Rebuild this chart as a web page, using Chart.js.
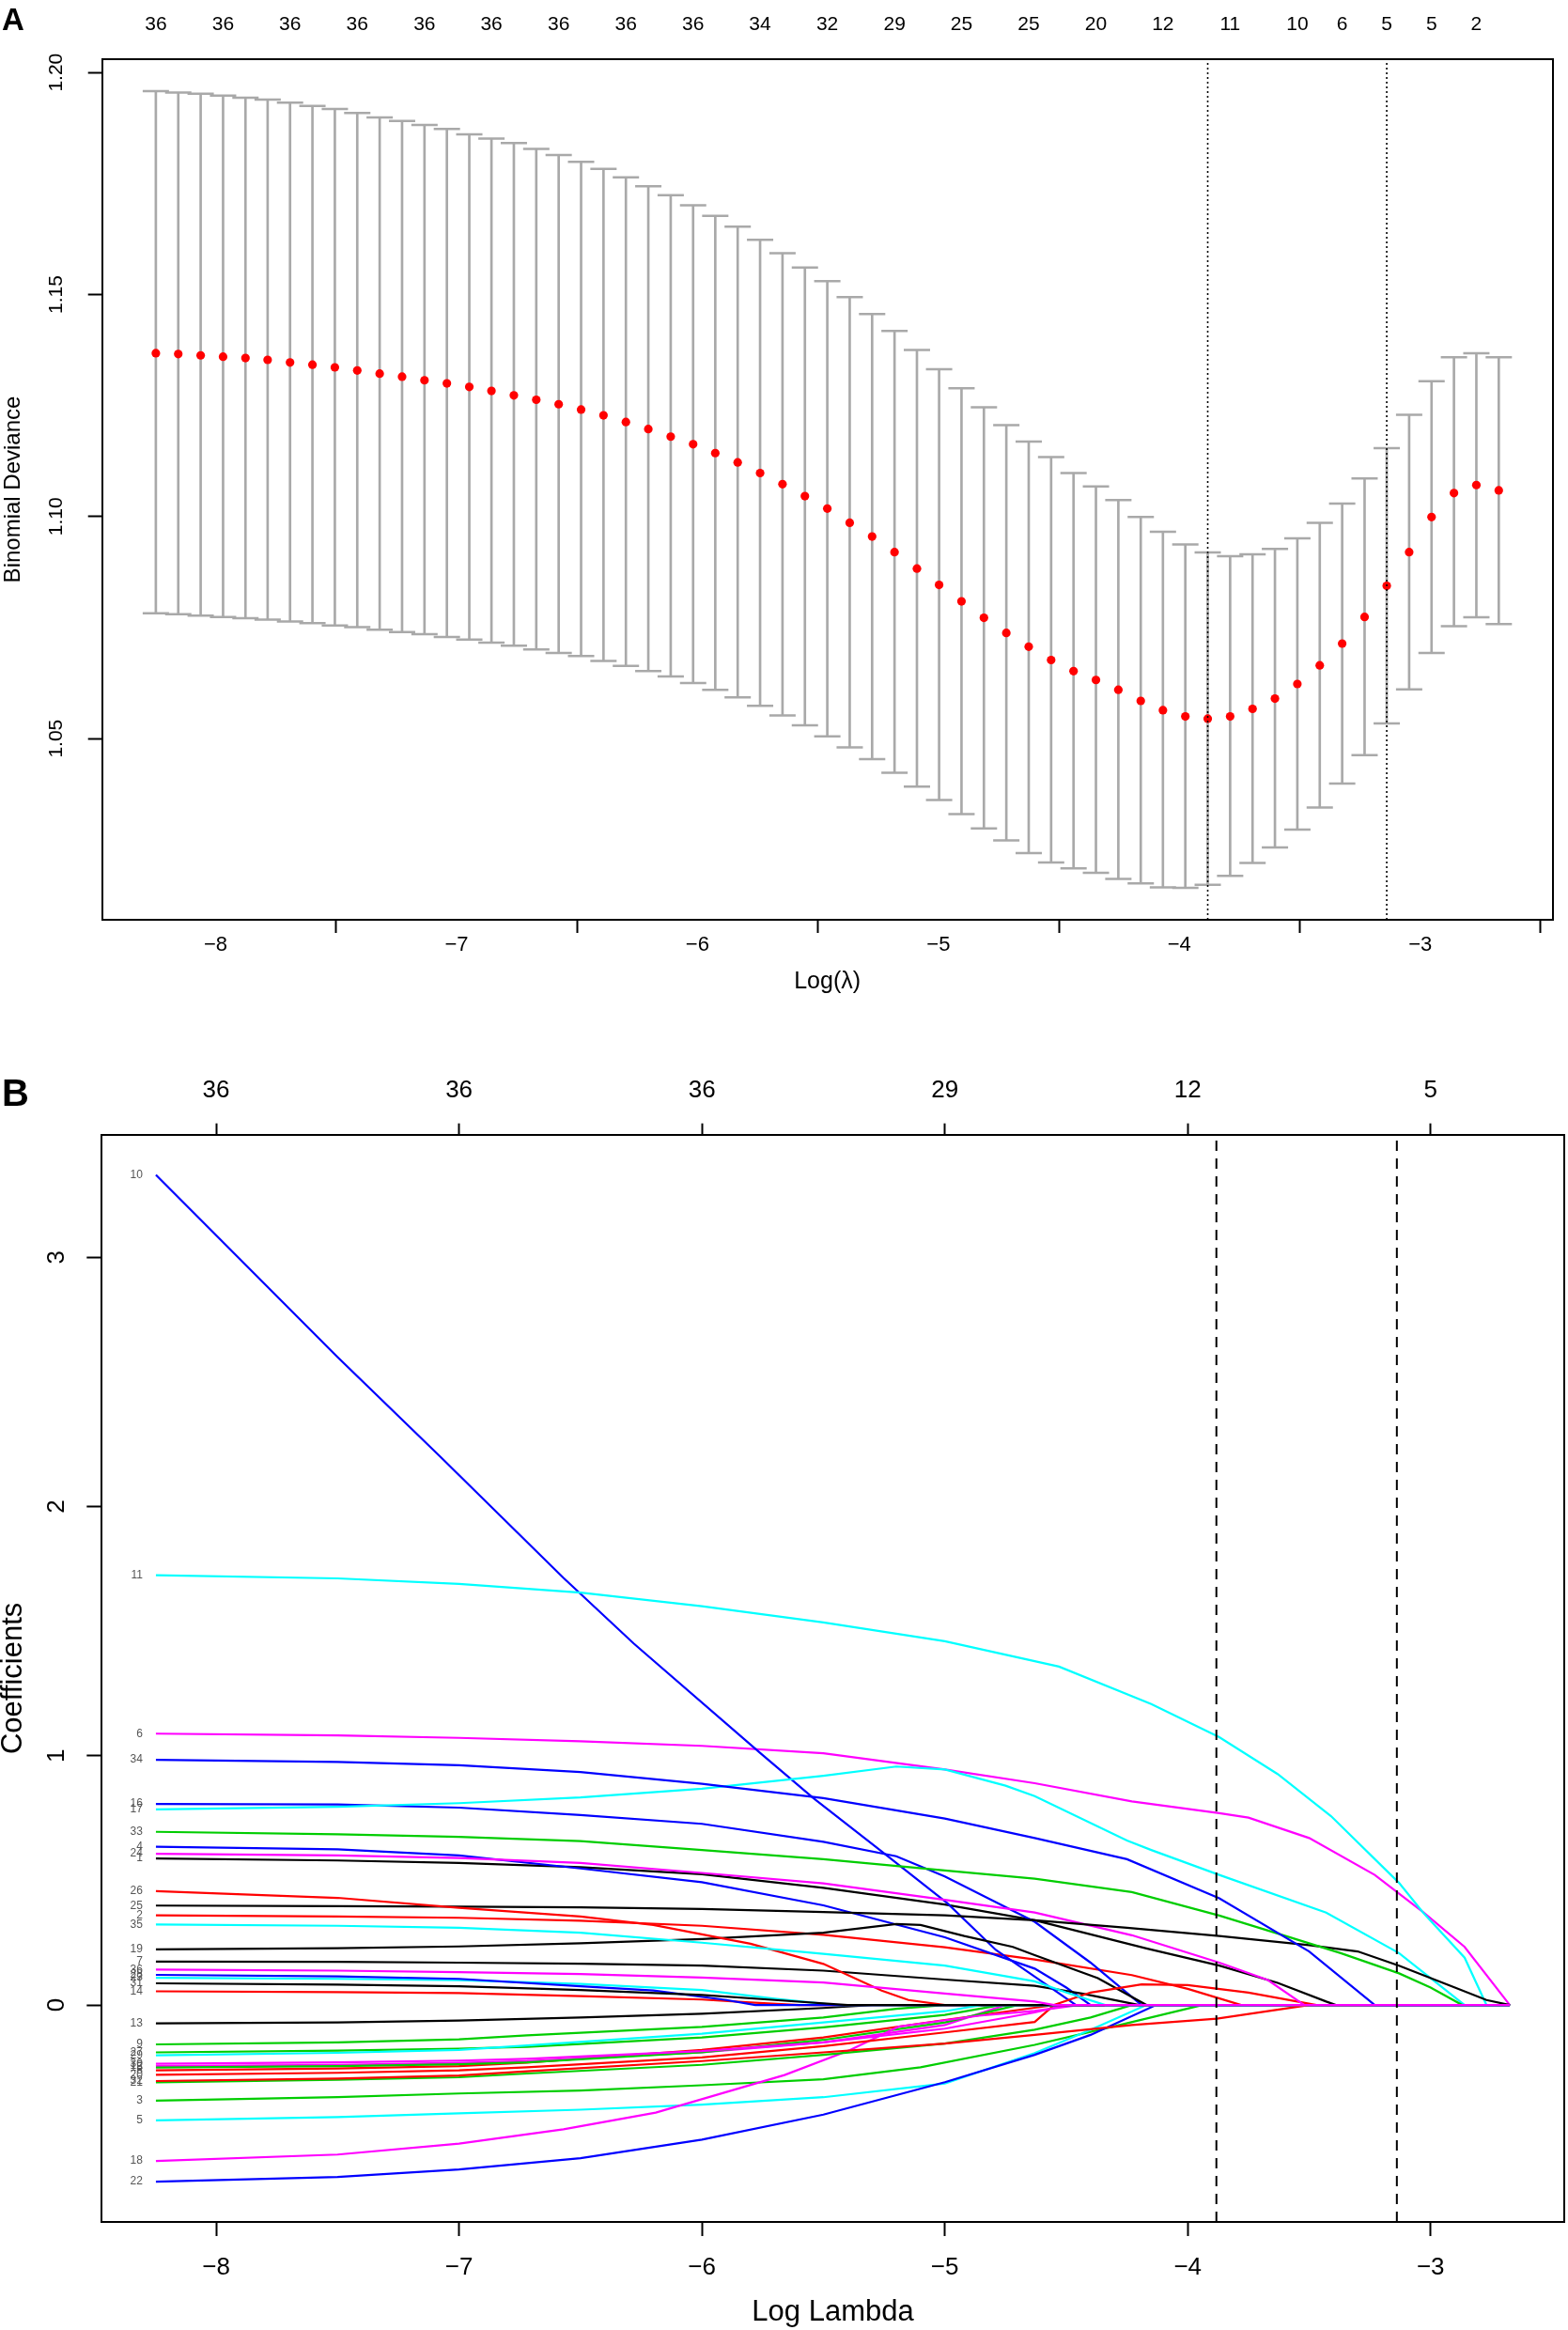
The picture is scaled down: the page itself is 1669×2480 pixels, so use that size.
<!DOCTYPE html>
<html>
<head>
<meta charset="utf-8">
<script src="https://cdn.jsdelivr.net/npm/chart.js@4.4.1/dist/chart.umd.min.js"></script>
<style>
  html, body { margin: 0; padding: 0; background: #fff; }
  #wrap { position: relative; width: 1669px; height: 2480px; }
  canvas { position: absolute; left: 0; }
  #cvChart { top: 0; }
  #pathChart { top: 1100px; }
</style>
</head>
<body>
<div id="wrap">
  <canvas id="cvChart" width="1669" height="1100"></canvas>
  <canvas id="pathChart" width="1669" height="1380"></canvas>
</div>
<script>
// ---- panel A: cross-validation curve ----
const logLambda = [
  -8.248, -8.155, -8.062, -7.969, -7.876, -7.784, -7.691, -7.598, -7.505, -7.412,
  -7.319, -7.226, -7.133, -7.040, -6.947, -6.855, -6.762, -6.669, -6.576, -6.483,
  -6.390, -6.297, -6.204, -6.111, -6.018, -5.926, -5.833, -5.740, -5.647, -5.554,
  -5.461, -5.368, -5.275, -5.182, -5.089, -4.997, -4.904, -4.811, -4.718, -4.625,
  -4.532, -4.439, -4.346, -4.253, -4.160, -4.068, -3.975, -3.882, -3.789, -3.696,
  -3.603, -3.510, -3.417, -3.324, -3.231, -3.139, -3.046, -2.953, -2.860, -2.767,
  -2.674
];
const cvMean = [
  1.1368, 1.1366, 1.1363, 1.1360, 1.1357, 1.1353, 1.1347, 1.1342, 1.1336, 1.1329,
  1.1322, 1.1315, 1.1307, 1.1300, 1.1292, 1.1283, 1.1273, 1.1263, 1.1253, 1.1241,
  1.1228, 1.1213, 1.1197, 1.1180, 1.1163, 1.1143, 1.1122, 1.1098, 1.1073, 1.1046,
  1.1018, 1.0986, 1.0955, 1.0920, 1.0883, 1.0846, 1.0809, 1.0772, 1.0738, 1.0707,
  1.0677, 1.0652, 1.0632, 1.0610, 1.0585, 1.0564, 1.0550, 1.0545, 1.0550, 1.0567,
  1.0590, 1.0623, 1.0665, 1.0714, 1.0774, 1.0844, 1.0920, 1.0999, 1.1053, 1.1071,
  1.1059
];
const cvUpper = [
  1.1958, 1.1955, 1.1952, 1.1948, 1.1943, 1.1939, 1.1932, 1.1925, 1.1918, 1.1909,
  1.1899, 1.1891, 1.1882, 1.1873, 1.1861, 1.1851, 1.1841, 1.1828, 1.1814, 1.1799,
  1.1783, 1.1764, 1.1744, 1.1724, 1.1701, 1.1677, 1.1653, 1.1623, 1.1593, 1.1561,
  1.1530, 1.1494, 1.1456, 1.1418, 1.1375, 1.1332, 1.1289, 1.1246, 1.1206, 1.1169,
  1.1134, 1.1098, 1.1068, 1.1037, 1.0999, 1.0966, 1.0937, 1.0919, 1.0911, 1.0915,
  1.0927, 1.0951, 1.0986, 1.1029, 1.1086, 1.1154, 1.1229, 1.1305, 1.1359, 1.1368,
  1.1359
];
const cvLower = [
  1.0782, 1.0780, 1.0777, 1.0774, 1.0771, 1.0768, 1.0764, 1.0760, 1.0755, 1.0751,
  1.0745, 1.0740, 1.0735, 1.0729, 1.0723, 1.0716, 1.0709, 1.0701, 1.0693, 1.0686,
  1.0675, 1.0664, 1.0652, 1.0640, 1.0625, 1.0610, 1.0593, 1.0574, 1.0552, 1.0530,
  1.0505, 1.0480, 1.0454, 1.0423, 1.0392, 1.0362, 1.0330, 1.0298, 1.0271, 1.0242,
  1.0221, 1.0208, 1.0198, 1.0184, 1.0174, 1.0165, 1.0164, 1.0171, 1.0191, 1.0220,
  1.0255, 1.0295, 1.0345, 1.0399, 1.0463, 1.0534, 1.0611, 1.0693, 1.0753, 1.0773,
  1.0758
];
// which lambda steps carry a non-zero count label on top, and the counts
const nzIndex = [0, 3, 6, 9, 12, 15, 18, 21, 24, 27, 30, 33, 36, 39, 42, 45, 48, 51, 53, 55, 57, 59];
const nzCount = [36, 36, 36, 36, 36, 36, 36, 36, 36, 34, 32, 29, 25, 25, 20, 12, 11, 10, 6, 5, 5, 2];
const lambdaMin = -3.882;
const lambda1se = -3.139;

const xLimits = [-8.471, -2.451];
const xTicks = [-8, -7, -6, -5, -4, -3];
const devLimits = [1.0092, 1.2030];
const devTicks = [1.05, 1.10, 1.15, 1.20];

// ---- panel B: coefficient paths (variable 1..36), [log lambda, coef] ----
const coefLimits = [-0.8706, 3.4926];
const coefTicks = [0, 1, 2, 3];
const dfTicks = [-8, -7, -6, -5, -4, -3];
const dfCounts = [36, 36, 36, 29, 12, 5];

const coefPaths = [
  /* 1 */ [[-8.248,0.588],[-7.5,0.580],[-7,0.570],[-6.5,0.553],[-6,0.525],[-5.5,0.470],[-5,0.403],[-4.63,0.340],[-4.17,0.227],[-3.87,0.158],[-3.63,0.089],[-3.43,0.014],[-3.39,0],[-2.674,0]],
  /* 2 */ [[-8.248,0.360],[-7.5,0.355],[-7,0.350],[-6.5,0.338],[-6,0.318],[-5.5,0.282],[-5,0.232],[-4.63,0.183],[-4.23,0.12],[-4.0,0.065],[-3.78,0],[-2.674,0]],
  /* 3 */ [[-8.248,-0.384],[-7.5,-0.370],[-7,-0.355],[-6.5,-0.343],[-6,-0.322],[-5.5,-0.298],[-5.1,-0.25],[-4.63,-0.16],[-4.3,-0.085],[-3.94,0],[-2.674,0]],
  /* 4 */ [[-8.248,0.635],[-7.5,0.625],[-7,0.600],[-6.5,0.548],[-6,0.493],[-5.5,0.40],[-5,0.272],[-4.63,0.146],[-4.5,0.07],[-4.4,0],[-2.674,0]],
  /* 5 */ [[-8.248,-0.463],[-7.5,-0.45],[-7,-0.435],[-6.5,-0.42],[-6,-0.40],[-5.5,-0.37],[-5,-0.315],[-4.63,-0.193],[-4.4,-0.10],[-4.17,0],[-2.674,0]],
  /* 6 */ [[-8.248,1.089],[-7.5,1.082],[-7,1.072],[-6.5,1.058],[-6,1.040],[-5.5,1.010],[-5,0.945],[-4.63,0.890],[-4.23,0.817],[-3.87,0.770],[-3.75,0.752],[-3.5,0.670],[-3.23,0.522],[-3.03,0.372],[-2.86,0.233],[-2.674,0]],
  /* 7 */ [[-8.248,0.174],[-7.5,0.173],[-7,0.170],[-6.5,0.166],[-6,0.158],[-5.5,0.138],[-5,0.102],[-4.63,0.077],[-4.43,0.045],[-4.2,0],[-2.674,0]],
  /* 8 */ [[-8.248,-0.262],[-7.5,-0.255],[-7,-0.245],[-6.72,-0.231],[-6,-0.18],[-5.5,-0.13],[-5,-0.06],[-4.63,-0.011],[-4.55,0],[-2.674,0]],
  /* 9 */ [[-8.248,-0.158],[-7.5,-0.150],[-7,-0.138],[-6.72,-0.122],[-6,-0.088],[-5.5,-0.05],[-5.2,-0.015],[-5.0,0],[-2.674,0]],
  /* 10 */ [[-8.248,3.331],[-7.5,2.60],[-7.08,2.203],[-6.57,1.714],[-6.28,1.45],[-5.76,1.011],[-5.54,0.829],[-5.26,0.616],[-4.99,0.409],[-4.79,0.221],[-4.63,0.114],[-4.46,0],[-2.674,0]],
  /* 11 */ [[-8.248,1.725],[-7.5,1.712],[-7,1.69],[-6.5,1.655],[-6,1.60],[-5.5,1.535],[-5,1.46],[-4.53,1.358],[-4.15,1.208],[-3.87,1.075],[-3.63,0.927],[-3.41,0.758],[-3.13,0.49],[-3.03,0.37],[-2.86,0.19],[-2.77,0],[-2.674,0]],
  /* 12 */ [[-8.248,-0.245],[-7.5,-0.240],[-7,-0.232],[-6.72,-0.225],[-6,-0.19],[-5.5,-0.15],[-5,-0.08],[-4.75,0],[-2.674,0]],
  /* 13 */ [[-8.248,-0.074],[-7.5,-0.07],[-7,-0.062],[-6.5,-0.05],[-6,-0.035],[-5.5,-0.012],[-5.3,0],[-2.674,0]],
  /* 14 */ [[-8.248,0.055],[-7.5,0.052],[-7,0.048],[-6.5,0.036],[-6,0.022],[-5.8,0.01],[-5.6,0],[-2.674,0]],
  /* 15 */ [[-8.248,-0.251],[-7.5,-0.245],[-7,-0.238],[-6.72,-0.230],[-6,-0.19],[-5.5,-0.14],[-5,-0.07],[-4.7,0],[-2.674,0]],
  /* 16 */ [[-8.248,0.807],[-7.5,0.805],[-7,0.792],[-6.5,0.762],[-6,0.727],[-5.5,0.655],[-5.2,0.597],[-5.0,0.516],[-4.63,0.334],[-4.4,0.17],[-4.19,0],[-2.674,0]],
  /* 17 */ [[-8.248,0.785],[-7.5,0.795],[-7,0.81],[-6.5,0.833],[-6,0.868],[-5.5,0.92],[-5.2,0.957],[-5.0,0.945],[-4.75,0.88],[-4.63,0.838],[-4.25,0.66],[-4.15,0.622],[-3.87,0.522],[-3.43,0.371],[-3.13,0.208],[-2.86,0],[-2.674,0]],
  /* 18 */ [[-8.248,-0.626],[-7.5,-0.60],[-7,-0.556],[-6.57,-0.499],[-6.19,-0.432],[-5.66,-0.281],[-5.39,-0.181],[-5.19,-0.087],[-4.86,-0.043],[-4.63,-0.024],[-4.45,0],[-2.674,0]],
  /* 19 */ [[-8.248,0.223],[-7.5,0.228],[-7,0.235],[-6.5,0.248],[-6,0.265],[-5.5,0.29],[-5.2,0.325],[-5.1,0.321],[-4.92,0.277],[-4.72,0.233],[-4.63,0.2],[-4.37,0.108],[-4.17,0],[-2.674,0]],
  /* 20 */ [[-8.248,-0.28],[-7.5,-0.272],[-7,-0.262],[-6.72,-0.25],[-6,-0.21],[-5.5,-0.165],[-5,-0.11],[-4.63,-0.068],[-4.55,0],[-4.4,0.05],[-4.19,0.083],[-4.0,0.08],[-3.75,0.05],[-3.47,0],[-2.674,0]],
  /* 21 */ [[-8.248,-0.31],[-7.5,-0.30],[-7,-0.29],[-6.72,-0.275],[-6,-0.24],[-5.5,-0.20],[-5,-0.155],[-4.63,-0.099],[-4.4,-0.05],[-4.23,0],[-2.674,0]],
  /* 22 */ [[-8.248,-0.709],[-7.5,-0.69],[-7,-0.66],[-6.5,-0.615],[-6,-0.54],[-5.5,-0.44],[-5,-0.31],[-4.63,-0.20],[-4.4,-0.12],[-4.13,0],[-2.674,0]],
  /* 23 */ [[-8.248,0.109],[-7.5,0.105],[-7,0.10],[-6.5,0.085],[-6,0.06],[-5.7,0.025],[-5.45,0],[-2.674,0]],
  /* 24 */ [[-8.248,0.607],[-7.5,0.600],[-7,0.590],[-6.5,0.570],[-6,0.530],[-5.5,0.488],[-5,0.422],[-4.63,0.371],[-4.23,0.28],[-3.87,0.17],[-3.67,0.10],[-3.52,0],[-2.674,0]],
  /* 25 */ [[-8.248,0.399],[-7.5,0.397],[-7,0.395],[-6.5,0.392],[-6,0.385],[-5.5,0.373],[-5,0.360],[-4.63,0.340],[-4.25,0.31],[-3.87,0.277],[-3.5,0.24],[-3.3,0.215],[-3.13,0.158],[-2.9,0.07],[-2.77,0.02],[-2.674,0]],
  /* 26 */ [[-8.248,0.457],[-7.5,0.43],[-7,0.39],[-6.5,0.355],[-6.2,0.321],[-5.8,0.246],[-5.5,0.165],[-5.26,0.058],[-5.15,0.02],[-5.0,0],[-2.674,0]],
  /* 27 */ [[-8.248,-0.19],[-7.5,-0.183],[-7,-0.175],[-6.72,-0.168],[-6,-0.13],[-5.5,-0.09],[-5,-0.04],[-4.77,0],[-2.674,0]],
  /* 28 */ [[-8.248,0.121],[-7.5,0.115],[-7,0.105],[-6.5,0.075],[-6.2,0.058],[-5.9,0.02],[-5.78,0],[-2.674,0]],
  /* 29 */ [[-8.248,-0.202],[-7.5,-0.192],[-7,-0.18],[-6.72,-0.162],[-6,-0.115],[-5.5,-0.07],[-5,-0.025],[-4.85,0],[-2.674,0]],
  /* 30 */ [[-8.248,-0.236],[-7.5,-0.230],[-7,-0.223],[-6.72,-0.216],[-6,-0.185],[-5.5,-0.15],[-5,-0.095],[-4.63,-0.03],[-4.5,0],[-2.674,0]],
  /* 31 */ [[-8.248,0.087],[-7.5,0.082],[-7,0.075],[-6.5,0.06],[-6,0.04],[-5.7,0.02],[-5.4,0],[-2.674,0]],
  /* 32 */ [[-8.248,-0.305],[-7.5,-0.295],[-7,-0.283],[-6.72,-0.266],[-6,-0.225],[-5.5,-0.19],[-5,-0.155],[-4.63,-0.12],[-4.23,-0.08],[-3.88,-0.055],[-3.5,0],[-2.674,0]],
  /* 33 */ [[-8.248,0.695],[-7.5,0.685],[-7,0.675],[-6.5,0.658],[-6,0.622],[-5.5,0.585],[-5,0.540],[-4.63,0.507],[-4.23,0.453],[-3.87,0.359],[-3.6,0.278],[-3.37,0.208],[-3.13,0.127],[-3.0,0.07],[-2.87,0],[-2.674,0]],
  /* 34 */ [[-8.248,0.984],[-7.5,0.975],[-7,0.962],[-6.5,0.935],[-6,0.888],[-5.5,0.830],[-5,0.748],[-4.63,0.670],[-4.25,0.585],[-3.87,0.428],[-3.5,0.215],[-3.23,0],[-2.674,0]],
  /* 35 */ [[-8.248,0.323],[-7.5,0.318],[-7,0.31],[-6.5,0.29],[-6,0.25],[-5.5,0.205],[-5,0.158],[-4.63,0.095],[-4.5,0.05],[-4.34,0],[-2.674,0]],
  /* 36 */ [[-8.248,0.142],[-7.5,0.138],[-7,0.132],[-6.5,0.124],[-6,0.11],[-5.5,0.09],[-5,0.046],[-4.63,0.014],[-4.55,0],[-2.674,0]]
];

// ---- styling helpers ----
const FONT = "'Liberation Sans', Arial, Helvetica, sans-serif";
const rPalette = ['#000000', '#FF0000', '#00CD00', '#0000FF', '#00FFFF', '#FF00FF'];
const errGrey = '#A9A9A9';
Chart.defaults.font.family = FONT;
Chart.defaults.color = '#000';

const fixedTicks = values => scale => { scale.ticks = values.map(v => ({ value: v })); };
const fixWidth = w => scale => { scale.width = w; };
const fixHeight = h => scale => { scale.height = h; };
const minusLabel = v => (v < 0 ? '\u2212' + Math.abs(v) : String(v));
const tickGrid = len => ({
  display: true, drawOnChartArea: false, drawTicks: true,
  tickLength: len, tickWidth: 2, tickColor: '#000', color: '#000'
});
const noGrid = { display: false, drawTicks: false };
const frame = { display: true, color: '#000', width: 2 };

const panelLetter = {
  id: 'panelLetter',
  afterDraw(chart, args, opts) {
    const ctx = chart.ctx;
    ctx.save();
    ctx.font = `bold ${opts.size}px ${FONT}`;
    ctx.fillStyle = '#000';
    ctx.textBaseline = 'alphabetic';
    ctx.fillText(opts.text, opts.x, opts.y);
    ctx.restore();
  }
};

// small variable numbers at the left end of each path
const varLabels = {
  id: 'varLabels',
  afterDatasetsDraw(chart) {
    const { ctx, scales: { x, y } } = chart;
    ctx.save();
    ctx.font = `12px ${FONT}`;
    ctx.fillStyle = '#555';
    ctx.textAlign = 'right';
    ctx.textBaseline = 'middle';
    coefPaths.forEach((path, i) => {
      ctx.fillText(String(i + 1), x.getPixelForValue(path[0][0]) - 14, y.getPixelForValue(path[0][1]));
    });
    ctx.restore();
  }
};

const vline = (xv, lims, dash, width, order) => ({
  data: [{ x: xv, y: lims[0] }, { x: xv, y: lims[1] }],
  showLine: true, borderColor: '#000', borderWidth: width, borderDash: dash,
  pointRadius: 0, order: order
});

const baseOptions = {
  responsive: false,
  animation: false,
  devicePixelRatio: 1,
  events: [],
  layout: { padding: 0 }
};

// ---- panel A ----
new Chart(document.getElementById('cvChart'), {
  type: 'scatter',
  data: {
    datasets: [
      {
        type: 'bar',
        data: logLambda.map((x, i) => ({ x: x, y: [cvLower[i], cvUpper[i]] })),
        backgroundColor: errGrey, borderWidth: 0, barThickness: 2, grouped: false, order: 3
      },
      {
        data: logLambda.map((x, i) => ({ x: x, y: cvUpper[i] })),
        pointStyle: 'line', pointRadius: 14, pointBorderColor: errGrey, pointBorderWidth: 2.5, order: 3
      },
      {
        data: logLambda.map((x, i) => ({ x: x, y: cvLower[i] })),
        pointStyle: 'line', pointRadius: 14, pointBorderColor: errGrey, pointBorderWidth: 2.5, order: 3
      },
      {
        data: logLambda.map((x, i) => ({ x: x, y: cvMean[i] })),
        pointRadius: 4.6, pointBackgroundColor: '#FF0000', pointBorderWidth: 0, order: 2
      },
      vline(lambdaMin, devLimits, [2, 3], 1.6, 1),
      vline(lambda1se, devLimits, [2, 3], 1.6, 1)
    ]
  },
  options: Object.assign({}, baseOptions, {
    plugins: {
      legend: { display: false },
      tooltip: { enabled: false },
      panelLetter: { text: 'A', x: 2, y: 32, size: 33 }
    },
    scales: {
      x: {
        type: 'linear', position: 'bottom', min: xLimits[0], max: xLimits[1], offset: false,
        afterBuildTicks: fixedTicks(xTicks), afterFit: fixHeight(121),
        ticks: { font: { size: 22 }, padding: 0, maxRotation: 0, autoSkip: false, callback: minusLabel },
        grid: tickGrid(14), border: frame,
        title: { display: true, text: 'Log(\u03BB)', font: { size: 25 }, padding: { top: 0, bottom: 40 } }
      },
      x2: {
        type: 'linear', position: 'top', min: xLimits[0], max: xLimits[1], offset: false,
        afterBuildTicks: s => { s.ticks = nzIndex.map(i => ({ value: logLambda[i] })); },
        afterFit: fixHeight(63),
        ticks: { font: { size: 21 }, padding: 24, maxRotation: 0, autoSkip: false,
                 callback: (v, i) => String(nzCount[i]) },
        grid: noGrid, border: frame
      },
      y: {
        type: 'linear', position: 'left', min: devLimits[0], max: devLimits[1],
        afterBuildTicks: fixedTicks(devTicks), afterFit: fixWidth(108.7),
        ticks: { font: { size: 21 }, padding: 13, crossAlign: 'center', minRotation: 90, maxRotation: 90,
                 callback: v => v.toFixed(2) },
        grid: tickGrid(15), border: frame,
        title: { display: true, text: 'Binomial Deviance', font: { size: 24 }, padding: 0 }
      },
      y2: {
        type: 'linear', position: 'right', min: devLimits[0], max: devLimits[1],
        afterFit: fixWidth(5), ticks: { display: false }, grid: noGrid, border: frame
      }
    }
  }),
  plugins: [panelLetter]
});

// ---- panel B ----
const pathSets = coefPaths.map((path, i) => ({
  data: path.map(p => ({ x: p[0], y: p[1] })),
  showLine: true, borderColor: rPalette[i % 6], borderWidth: 2.2,
  pointRadius: 0, tension: 0, order: 100 - (i + 1)
}));

new Chart(document.getElementById('pathChart'), {
  type: 'scatter',
  data: {
    datasets: pathSets.concat([
      vline(lambdaMin, coefLimits, [11, 8], 2, 0),
      vline(lambda1se, coefLimits, [11, 8], 2, 0)
    ])
  },
  options: Object.assign({}, baseOptions, {
    plugins: {
      legend: { display: false },
      tooltip: { enabled: false },
      panelLetter: { text: 'B', x: 2, y: 77, size: 40 }
    },
    scales: {
      x: {
        type: 'linear', position: 'bottom', min: xLimits[0], max: xLimits[1], offset: false,
        afterBuildTicks: fixedTicks(xTicks), afterFit: fixHeight(115),
        ticks: { font: { size: 26 }, padding: 18, maxRotation: 0, autoSkip: false, callback: minusLabel },
        grid: tickGrid(15), border: frame,
        title: { display: true, text: 'Log Lambda', font: { size: 31 }, padding: { top: 0, bottom: 0 } }
      },
      x2: {
        type: 'linear', position: 'top', min: xLimits[0], max: xLimits[1], offset: false,
        afterBuildTicks: fixedTicks(dfTicks), afterFit: fixHeight(107.7),
        ticks: { font: { size: 26 }, padding: 19, maxRotation: 0, autoSkip: false,
                 callback: (v, i) => String(dfCounts[i]) },
        grid: tickGrid(12), border: frame
      },
      y: {
        type: 'linear', position: 'left', min: coefLimits[0], max: coefLimits[1],
        afterBuildTicks: fixedTicks(coefTicks), afterFit: fixWidth(108.3),
        ticks: { font: { size: 26 }, padding: 24, crossAlign: 'center', minRotation: 90, maxRotation: 90 },
        grid: tickGrid(16), border: frame,
        title: { display: true, text: 'Coefficients', font: { size: 31, lineHeight: 0.95 }, padding: 0 }
      },
      y2: {
        type: 'linear', position: 'right', min: coefLimits[0], max: coefLimits[1],
        afterFit: fixWidth(4.3), ticks: { display: false }, grid: noGrid, border: frame
      }
    }
  }),
  plugins: [panelLetter, varLabels]
});
</script>
</body>
</html>
